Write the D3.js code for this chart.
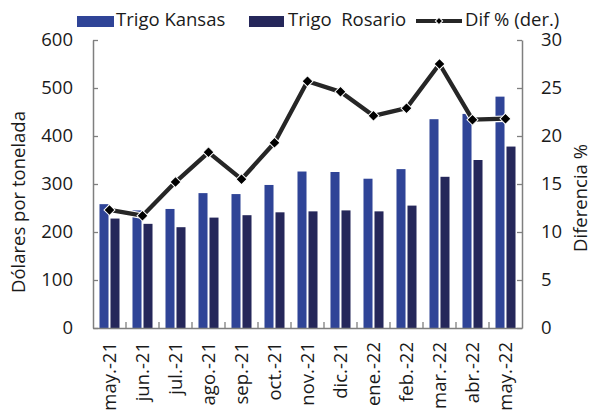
<!DOCTYPE html>
<html><head><meta charset="utf-8">
<script src="https://cdn.jsdelivr.net/npm/d3@7"></script>
<style>body{margin:0;background:#fff}svg{display:block;font-family:"Open Sans",sans-serif}</style>
</head><body><svg id="c" width="593" height="412"></svg>
<script>
const categories = ["may.-21","jun.-21","jul.-21","ago.-21","sep.-21","oct.-21","nov.-21","dic.-21","ene.-22","feb.-22","mar.-22","abr.-22","may.-22"];
const kansas  = [258,245,248,281,279,298,326,325,311,331,435,446,482];
const rosario = [228,217,210,230,235,241,243,245,243,255,315,350,378];
const dif     = [12.3,11.7,15.2,18.3,15.5,19.3,25.7,24.6,22.1,22.9,27.5,21.7,21.8];
const leftTicks = [0,100,200,300,400,500,600];
const rightTicks = [0,5,10,15,20,25,30];
const seriesNames = ["Trigo Kansas","Trigo  Rosario","Dif % (der.)"];
const colors = {k:"#2f4497", r:"#25275a", line:"#262626"};

const svg = d3.select("#c");
const m = {l:93, r:522, t:40, b:328};
const x0 = d3.scaleBand().domain(categories).range([m.l, m.r]).padding(0);
const x1 = d3.scaleBand().domain(["k","r"]).range([0, x0.bandwidth()]).paddingInner(0.18).paddingOuter(0.59);
const yL = d3.scaleLinear().domain([0,600]).range([m.b, m.t]);
const yR = d3.scaleLinear().domain([0,30]).range([m.b, m.t]);
const fs = 18.5, txt = "#1a1a1a", axc = "#7f7f7f";

// bars
const g = svg.append("g");
categories.forEach((c,i)=>{
  g.append("rect").attr("x", x0(c)+x1("k")).attr("y", yL(kansas[i])).attr("width", x1.bandwidth()).attr("height", yL(0)-yL(kansas[i])).attr("fill", colors.k);
  g.append("rect").attr("x", x0(c)+x1("r")).attr("y", yL(rosario[i])).attr("width", x1.bandwidth()).attr("height", yL(0)-yL(rosario[i])).attr("fill", colors.r);
});

// axes
const axL = svg.append("g").attr("transform",`translate(${m.l},0)`).call(d3.axisLeft(yL).tickValues(leftTicks).tickSizeInner(-5).tickSizeOuter(0).tickPadding(20));
const axR = svg.append("g").attr("transform",`translate(${m.r},0)`).call(d3.axisRight(yR).tickValues(rightTicks).tickSizeInner(-5).tickSizeOuter(0).tickPadding(19));
const axB = svg.append("g").attr("transform",`translate(0,${m.b})`).call(d3.axisBottom(x0).tickSize(0).tickPadding(0));
[axL,axR,axB].forEach(a=>{
  a.select(".domain").attr("stroke", axc).attr("stroke-width",1.5);
  a.selectAll(".tick line").attr("stroke", axc).attr("stroke-width",1.3);
  a.selectAll("text").attr("font-size", fs).attr("fill", txt).attr("font-family",'"Open Sans",sans-serif');
});
// category separator ticks (inside)
svg.append("g").selectAll("line").data(categories.slice(1)).join("line")
  .attr("x1", d=>x0(d)).attr("x2", d=>x0(d)).attr("y1", m.b).attr("y2", m.b-6)
  .attr("stroke", axc).attr("stroke-width",1.3);
axB.selectAll(".tick text").attr("transform","rotate(-90)").attr("text-anchor","end")
  .attr("x",-14).attr("y",0).attr("dy","0.35em");

// line
const line = d3.line().x((d,i)=>x0(categories[i])+x0.bandwidth()/2).y(d=>yR(d));
svg.append("path").datum(dif).attr("d", line).attr("fill","none").attr("stroke","#ffffff").attr("stroke-width",6.5).attr("stroke-linejoin","round");
svg.append("path").datum(dif).attr("d", line).attr("fill","none").attr("stroke",colors.line).attr("stroke-width",4.3).attr("stroke-linejoin","round");
svg.append("g").selectAll("path").data(dif).join("path")
  .attr("d", d3.symbol().type(d3.symbolSquare).size(60))
  .attr("transform",(d,i)=>`translate(${x0(categories[i])+x0.bandwidth()/2},${yR(d)}) rotate(45)`)
  .attr("fill","#000").attr("stroke","#fff").attr("stroke-width",1);

// axis titles
svg.append("text").attr("transform","translate(25,202) rotate(-90)").attr("text-anchor","middle")
  .attr("font-size",fs).attr("fill",txt).text("Dólares por tonelada");
svg.append("text").attr("transform","translate(587,198) rotate(-90)").attr("text-anchor","middle")
  .attr("font-size",fs).attr("fill",txt).text("Diferencia %");

// legend
const lg = svg.append("g");
lg.append("rect").attr("x",77).attr("y",16).attr("width",37).attr("height",11).attr("fill",colors.k);
lg.append("text").attr("x",116).attr("y",25.5).attr("font-size",fs).attr("fill",txt).text(seriesNames[0]);
lg.append("rect").attr("x",249).attr("y",16).attr("width",35).attr("height",11).attr("fill",colors.r);
lg.append("text").attr("x",288).attr("y",25.5).attr("font-size",fs).attr("fill",txt).attr("xml:space","preserve").style("white-space","pre").text(seriesNames[1]);
lg.append("line").attr("x1",416).attr("x2",462).attr("y1",21).attr("y2",21).attr("stroke",colors.line).attr("stroke-width",4);
lg.append("path").attr("d", d3.symbol().type(d3.symbolSquare).size(26)).attr("transform","translate(439,21) rotate(45)").attr("fill","#000").attr("stroke","#fff").attr("stroke-width",1);
lg.append("text").attr("x",465).attr("y",25.5).attr("font-size",fs).attr("fill",txt).text(seriesNames[2]);
</script></body></html>
